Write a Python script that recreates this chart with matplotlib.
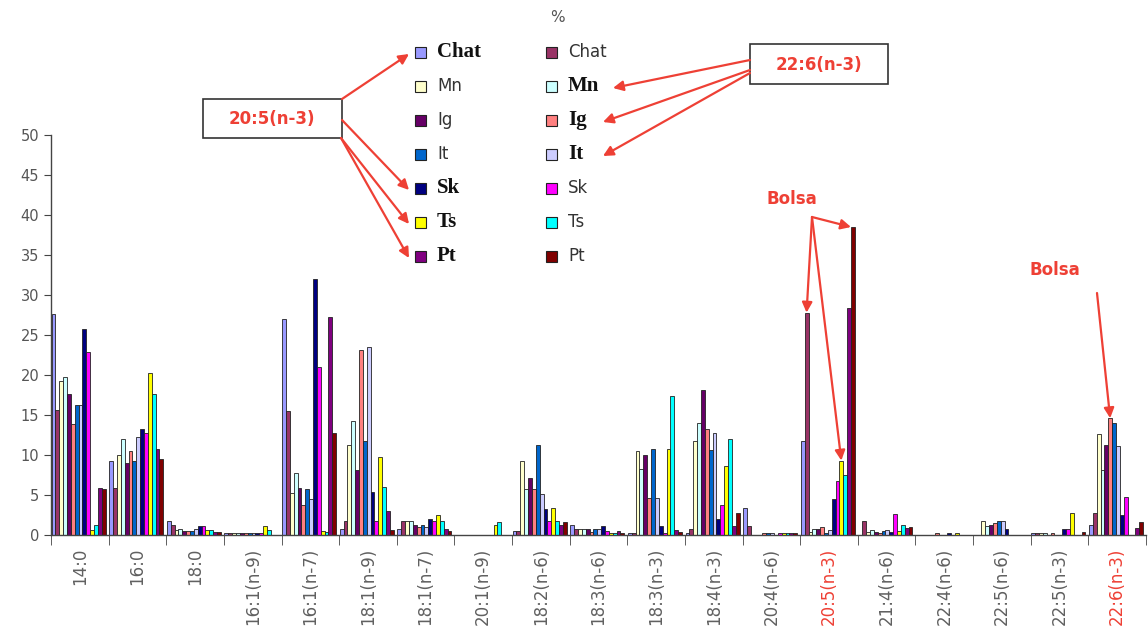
import numpy as np
import matplotlib
matplotlib.use("Agg")
import matplotlib.pyplot as plt
from matplotlib.patches import Rectangle

# categories (fatty acids)
categories = ["14:0", "16:0", "18:0", "16:1(n-9)", "16:1(n-7)", "18:1(n-9)", "18:1(n-7)",
              "20:1(n-9)", "18:2(n-6)", "18:3(n-6)", "18:3(n-3)", "18:4(n-3)", "20:4(n-6)",
              "20:5(n-3)", "21:4(n-6)", "22:4(n-6)", "22:5(n-6)", "22:5(n-3)", "22:6(n-3)"]
red_labels = ["20:5(n-3)", "22:6(n-3)"]

# series values, % (first / second legend column)
chat_1 = [27.6, 9.3, 1.7, 0.3, 27.0, 0.7, 0.7, 0, 0.5, 1.2, 0.3, 0.3, 3.4, 11.8, 0, 0, 0, 0.3, 1.3]
chat_2 = [15.6, 5.9, 1.3, 0.3, 15.5, 1.7, 1.7, 0, 0.5, 0.7, 0.3, 0.7, 1.1, 27.8, 1.8, 0, 0, 0.3, 2.7]
mn_1 = [19.3, 10.0, 0.6, 0.3, 5.3, 11.3, 1.7, 0, 9.3, 0.7, 10.5, 11.8, 0, 0.4, 0.4, 0, 1.7, 0.3, 12.6]
mn_2 = [19.8, 12.0, 0.7, 0.3, 7.8, 14.3, 1.7, 0, 5.8, 0.7, 8.2, 14.0, 0, 0.7, 0.6, 0, 1.1, 0.3, 8.1]
ig_1 = [17.6, 9.0, 0.5, 0.3, 5.9, 8.1, 1.3, 0, 7.1, 0.7, 10.0, 18.1, 0, 0.7, 0.4, 0, 1.3, 0, 11.3]
ig_2 = [13.9, 10.5, 0.5, 0.3, 3.7, 23.1, 1.0, 0, 5.8, 0.4, 4.6, 13.2, 0.3, 1.0, 0.3, 0.3, 1.5, 0.3, 14.6]
it_1 = [16.3, 9.3, 0.5, 0.3, 5.7, 11.8, 1.3, 0, 11.3, 0.7, 10.8, 10.6, 0.3, 0.3, 0.5, 0, 1.8, 0, 14.0]
it_2 = [16.2, 12.2, 0.7, 0.3, 4.5, 23.5, 1.0, 0, 5.1, 0.7, 4.6, 12.7, 0.3, 0.6, 0.6, 0, 1.8, 0, 11.1]
sk_1 = [25.8, 13.2, 1.1, 0.3, 32.0, 5.4, 2.0, 0, 3.2, 1.1, 1.1, 2.0, 0, 4.5, 0.4, 0.3, 0.8, 0.7, 2.5]
sk_2 = [22.9, 12.7, 1.1, 0.3, 21.0, 1.7, 1.8, 0, 1.8, 0.5, 0.3, 3.7, 0.3, 6.8, 2.6, 0, 0, 0.7, 4.7]
ts_1 = [0.6, 20.2, 0.6, 1.1, 0.5, 9.8, 2.5, 1.2, 3.4, 0.3, 10.8, 8.6, 0.3, 9.3, 0.5, 0.3, 0, 2.7, 0]
ts_2 = [1.3, 17.6, 0.6, 0.6, 0.4, 6.0, 1.8, 1.6, 1.8, 0.3, 17.4, 12.0, 0.3, 7.5, 1.3, 0, 0, 0, 0]
pt_1 = [5.9, 10.8, 0.4, 0, 27.3, 3.0, 0.8, 0, 1.3, 0.5, 0.6, 1.1, 0.3, 28.4, 0.9, 0, 0, 0, 0.9]
pt_2 = [5.7, 9.5, 0.4, 0, 12.8, 0.6, 0.5, 0, 1.6, 0.3, 0.4, 2.7, 0.3, 38.5, 1.0, 0, 0, 0.4, 1.6]

series = [chat_1, chat_2, mn_1, mn_2, ig_1, ig_2, it_1, it_2, sk_1, sk_2, ts_1, ts_2, pt_1, pt_2]
names = ["Chat", "Chat", "Mn", "Mn", "Ig", "Ig", "It", "It", "Sk", "Sk", "Ts", "Ts", "Pt", "Pt"]
# old excel palette
colors = ["#9999FF", "#993366", "#FFFFCC", "#CCFFFF", "#660066", "#FF8080", "#0066CC",
          "#CCCCFF", "#000080", "#FF00FF", "#FFFF00", "#00FFFF", "#800080", "#800000"]
# legend entries pointed at by the boxes (drawn in bold serif)
group_a = [0, 8, 10, 12]   # 20:5(n-3)
group_b = [3, 5, 7]        # 22:6(n-3)

W, H = 1148, 634
RED = "#EE4035"
GREY = "#555555"

fig = plt.figure(figsize=(W / 100, H / 100), dpi=100)
ax = fig.add_axes([51 / W, 1 - 535 / H, 1095 / W, 400 / H])

x = np.arange(len(categories))
n = len(series)
bw = 0.067
start = -0.49
for j, vals in enumerate(series):
    ax.bar(x + start + (j + 0.5) * bw, vals, width=bw, color=colors[j],
           edgecolor="#222222", linewidth=0.6, zorder=2)

ax.set_xlim(-0.5, len(categories) - 0.5)
ax.set_ylim(0, 50)
ax.set_yticks(np.arange(0, 51, 5))
for s in ["top", "right"]:
    ax.spines[s].set_visible(False)
for s in ["left", "bottom"]:
    ax.spines[s].set_color("#444444")
    ax.spines[s].set_linewidth(1.0)
ax.tick_params(axis="y", labelsize=10.5, labelcolor=GREY, color="#444444", length=5)
ax.set_xticks(x)
ax.set_xticklabels(categories, rotation=90, fontsize=12, color="#606060")
ax.tick_params(axis="x", length=0, pad=9)
ax.set_xticks(np.arange(-0.5, len(categories), 1), minor=True)
ax.tick_params(axis="x", which="minor", length=7, color="#444444")
for lab in ax.get_xticklabels():
    if lab.get_text() in red_labels:
        lab.set_color(RED)


def fp(px, py):
    # image pixel -> figure fraction
    return px / W, 1 - py / H


# legend, two columns filled row by row
fig.text(*fp(557, 18), "%", fontsize=11, color=GREY, ha="center", va="center")
col_x = [415, 546]
row_y0, row_dy = 52, 34
for j in range(n):
    cx = col_x[j % 2]
    cy = row_y0 + (j // 2) * row_dy
    fig.add_artist(Rectangle(fp(cx, cy + 6), 11 / W, 11 / H, transform=fig.transFigure,
                             facecolor=colors[j], edgecolor="#222222", linewidth=0.8))
    if j in group_a or j in group_b:
        fig.text(*fp(cx + 22, cy), names[j], fontsize=15, fontweight="bold",
                 family="Liberation Serif", color="#111111", va="center")
    else:
        fig.text(*fp(cx + 22, cy), names[j], fontsize=12, color="#333333", va="center")

arrow = dict(arrowstyle="-|>", color=RED, lw=1.6, mutation_scale=15, shrinkA=0, shrinkB=0)

# 20:5(n-3) box
fig.add_artist(Rectangle(fp(203, 138), 139 / W, 39 / H, transform=fig.transFigure,
                         facecolor="white", edgecolor="#333333", linewidth=1.2))
fig.text(*fp(272, 119), "20:5(n-3)", fontsize=12, fontweight="bold", color=RED,
         ha="center", va="center")
starts_a = [(342, 99), (342, 120), (341, 138), (341, 138)]
for j, (sx, sy) in zip(group_a, starts_a):
    ty = row_y0 + (j // 2) * row_dy
    fig.add_artist(plt.matplotlib.text.Annotation(
        "", xy=fp(409, ty + 2), xytext=fp(sx, sy), xycoords="figure fraction",
        textcoords="figure fraction", arrowprops=arrow))

# 22:6(n-3) box
fig.add_artist(Rectangle(fp(750, 84), 138 / W, 40 / H, transform=fig.transFigure,
                         facecolor="white", edgecolor="#333333", linewidth=1.2))
fig.text(*fp(819, 65), "22:6(n-3)", fontsize=12, fontweight="bold", color=RED,
         ha="center", va="center")
tips_b = [613, 603, 603]
starts_b = [(750, 60), (750, 70), (750, 73)]
for j, tx, (sx, sy) in zip(group_b, tips_b, starts_b):
    ty = row_y0 + (j // 2) * row_dy
    fig.add_artist(plt.matplotlib.text.Annotation(
        "", xy=fp(tx, ty + 2), xytext=fp(sx, sy), xycoords="figure fraction",
        textcoords="figure fraction", arrowprops=arrow))


def bar_top(cat, j):
    i = categories.index(cat)
    return (i + start + (j + 0.5) * bw, series[j][i])


# "Bolsa" notes
fig.text(*fp(792, 199), "Bolsa", fontsize=12, fontweight="bold", color=RED,
         ha="center", va="center")
for j, dx in [(1, 0), (13, -bw * 0.5), (10, 0)]:
    bx, by = bar_top("20:5(n-3)", j)
    ax.annotate("", xy=(bx + dx, by), xycoords="data", xytext=fp(812, 217),
                textcoords="figure fraction", arrowprops=arrow, annotation_clip=False)
fig.text(*fp(1055, 270), "Bolsa", fontsize=12, fontweight="bold", color=RED,
         ha="center", va="center")
bx, by = bar_top("22:6(n-3)", 5)
ax.annotate("", xy=(bx, by), xycoords="data", xytext=fp(1097, 293),
            textcoords="figure fraction", arrowprops=arrow, annotation_clip=False)

fig.savefig("out.png", dpi=100)
